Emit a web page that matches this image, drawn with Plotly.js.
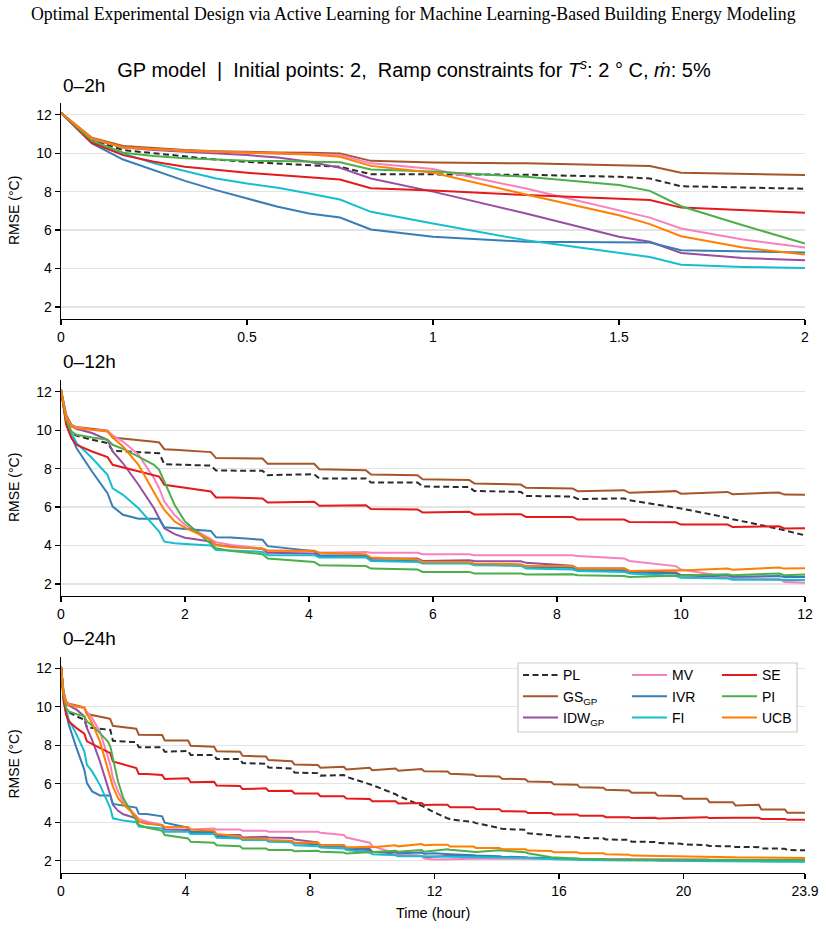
<!DOCTYPE html>
<html>
<head>
<meta charset="utf-8">
<script src="https://cdn.plot.ly/plotly-3.0.1.min.js"></script>
<style>
  html, body { margin: 0; padding: 0; background: #ffffff; }
  #chart { width: 826px; height: 930px; }
</style>
</head>
<body>
<div id="chart"></div>
<script>
// ---- 0–2 h run: time (hour) and RMSE (°C) for each acquisition strategy ----
const hoursShort = [0, 0.083, 0.167, 0.25, 0.333, 0.417, 0.5, 0.583, 0.667, 0.75, 0.833, 1.0, 1.25, 1.5, 1.583, 1.667, 1.833, 2.0];
const shortPL  = [12.1, 10.7, 10.16, 9.99, 9.81, 9.67, 9.55, 9.47, 9.38, 9.29, 8.91, 8.9, 8.88, 8.77, 8.68, 8.28, 8.2, 8.15];
const shortGS  = [12.1, 10.8, 10.37, 10.25, 10.16, 10.1, 10.06, 10.04, 10.02, 9.99, 9.6, 9.52, 9.47, 9.36, 9.33, 8.98, 8.91, 8.86];
const shortIDW = [12.1, 10.72, 10.3, 10.16, 10.07, 9.99, 9.9, 9.78, 9.55, 9.24, 8.68, 8.0, 6.86, 5.65, 5.39, 4.81, 4.55, 4.43];
const shortMV  = [12.1, 10.77, 10.3, 10.2, 10.13, 10.08, 10.04, 10.01, 9.97, 9.9, 9.47, 9.18, 8.16, 7.03, 6.65, 6.08, 5.51, 5.09];
const shortIVR = [12.1, 10.51, 9.67, 9.12, 8.56, 8.08, 7.63, 7.21, 6.86, 6.65, 6.03, 5.65, 5.39, 5.35, 5.35, 4.95, 4.9, 4.83];
const shortFI  = [12.1, 10.59, 9.99, 9.47, 9.07, 8.68, 8.42, 8.2, 7.9, 7.59, 6.95, 6.34, 5.47, 4.81, 4.6, 4.2, 4.08, 4.03];
const shortSE  = [12.1, 10.54, 9.9, 9.55, 9.29, 9.12, 8.98, 8.86, 8.74, 8.63, 8.18, 8.06, 7.82, 7.64, 7.56, 7.17, 7.03, 6.9];
const shortPI  = [12.1, 10.65, 10.02, 9.85, 9.73, 9.67, 9.6, 9.59, 9.57, 9.53, 9.15, 9.05, 8.77, 8.34, 8.04, 7.24, 6.25, 5.3];
const shortUCB = [12.1, 10.77, 10.3, 10.2, 10.13, 10.07, 10.02, 9.99, 9.93, 9.81, 9.34, 8.98, 7.85, 6.77, 6.31, 5.68, 5.09, 4.73];

// ---- long run (shown as 0–12 h and 0–24 h) ----
const hoursLong = [0, 0.083, 0.167, 0.25, 0.5, 0.75, 0.833, 1.0, 1.25, 1.5,
  1.583, 1.667, 1.833, 2.0, 2.25, 2.417, 2.5, 2.75, 3.25, 3.333,
  4.083, 4.167, 4.917, 5.0, 5.75, 5.833, 6.583, 6.667, 7.417, 7.5,
  8.25, 8.333, 9.083, 9.167, 9.917, 10.0, 10.75, 10.833, 11.583, 11.667,
  12.0, 12.417, 12.5, 13.25, 13.333, 14.083, 14.167, 14.917, 15.0, 15.75,
  15.833, 16.583, 16.667, 17.417, 17.5, 18.25, 18.333, 19.083, 19.167, 19.917,
  20.0, 20.75, 20.833, 21.583, 21.667, 22.417, 22.5, 23.25, 23.333, 23.9];
const longPL = [12.1, 10.66, 9.85, 9.72, 9.5, 9.33, 8.93, 8.9, 8.86, 8.82,
  8.8, 8.23, 8.2, 8.2, 8.17, 8.16, 7.9, 7.9, 7.89, 7.66,
  7.71, 7.49, 7.49, 7.28, 7.28, 7.07, 7.04, 6.84, 6.79, 6.58,
  6.55, 6.42, 6.45, 6.36, 6.0, 5.93, 5.45, 5.37, 4.86, 4.79,
  4.5, 4.2, 4.15, 4.0, 3.95, 3.7, 3.65, 3.6, 3.42, 3.32,
  3.27, 3.22, 3.18, 3.16, 3.1, 3.08, 2.98, 2.97, 2.92, 2.88,
  2.84, 2.8, 2.76, 2.74, 2.71, 2.7, 2.63, 2.62, 2.55, 2.54];
const longGS = [12.1, 10.8, 10.28, 10.16, 10.07, 9.97, 9.62, 9.57, 9.5, 9.4,
  9.36, 9.01, 8.98, 8.95, 8.9, 8.86, 8.55, 8.54, 8.53, 8.25,
  8.25, 7.97, 7.92, 7.69, 7.66, 7.45, 7.41, 7.23, 7.17, 7.0,
  6.97, 6.83, 6.88, 6.74, 6.83, 6.7, 6.79, 6.67, 6.76, 6.65,
  6.66, 6.64, 6.52, 6.47, 6.4, 6.38, 6.26, 6.23, 6.12, 6.09,
  5.97, 5.95, 5.81, 5.79, 5.69, 5.65, 5.53, 5.53, 5.39, 5.36,
  5.22, 5.22, 5.04, 5.04, 4.87, 4.9, 4.66, 4.66, 4.49, 4.49];
const longIDW = [12.1, 10.65, 10.2, 10.07, 9.85, 9.5, 8.89, 8.28, 7.16, 5.94,
  5.42, 4.9, 4.59, 4.41, 4.29, 4.2, 4.03, 3.95, 3.82, 3.62,
  3.59, 3.45, 3.5, 3.33, 3.33, 3.2, 3.24, 3.2, 3.18, 3.1,
  2.95, 2.8, 2.8, 2.68, 2.6, 2.46, 2.37, 2.3, 2.24, 2.18,
  2.22, 2.26, 2.25, 2.22, 2.21, 2.17, 2.16, 2.14, 2.13, 2.1,
  2.09, 2.08, 2.07, 2.06, 2.05, 2.04, 2.03, 2.03, 2.02, 2.02,
  2.02, 2.01, 2.01, 2.0, 2.0, 2.0, 2.0, 2.0, 2.0, 2.0];
const longMV = [12.1, 10.7, 10.23, 10.15, 10.02, 9.97, 9.73, 9.41, 8.72, 7.5,
  6.98, 6.29, 5.59, 5.07, 4.64, 4.34, 4.17, 4.03, 3.85, 3.73,
  3.73, 3.62, 3.67, 3.62, 3.62, 3.55, 3.55, 3.5, 3.5, 3.47,
  3.5, 3.45, 3.33, 3.2, 2.93, 2.75, 2.37, 2.33, 2.26, 2.11,
  2.06, 2.08, 2.09, 2.1, 2.1, 2.1, 2.1, 2.09, 2.09, 2.09,
  2.09, 2.09, 2.09, 2.09, 2.09, 2.08, 2.08, 2.08, 2.08, 2.07,
  2.07, 2.07, 2.06, 2.06, 2.05, 2.05, 2.04, 2.04, 2.03, 2.03];
const longIVR = [12.1, 10.45, 9.67, 9.07, 7.85, 6.72, 6.03, 5.6, 5.39, 5.39,
  5.39, 4.95, 4.9, 4.86, 4.8, 4.76, 4.43, 4.42, 4.3, 3.97,
  3.71, 3.5, 3.45, 3.24, 3.2, 3.1, 3.1, 3.03, 2.95, 2.9,
  2.85, 2.72, 2.72, 2.6, 2.55, 2.45, 2.45, 2.38, 2.42, 2.36,
  2.38, 2.36, 2.33, 2.28, 2.26, 2.23, 2.2, 2.18, 2.16, 2.13,
  2.1, 2.09, 2.08, 2.07, 2.06, 2.05, 2.04, 2.03, 2.02, 2.01,
  2.0, 2.0, 1.99, 1.99, 1.98, 1.98, 1.97, 1.97, 1.97, 1.97];
const longFI = [12.1, 10.49, 9.85, 9.33, 8.55, 7.68, 6.98, 6.64, 5.94, 4.99,
  4.73, 4.2, 4.12, 4.08, 4.03, 4.0, 3.77, 3.74, 3.67, 3.5,
  3.5, 3.38, 3.38, 3.19, 3.15, 3.07, 3.07, 2.98, 2.95, 2.8,
  2.75, 2.68, 2.63, 2.55, 2.42, 2.33, 2.28, 2.22, 2.24, 2.22,
  2.21, 2.2, 2.19, 2.18, 2.17, 2.16, 2.15, 2.14, 2.13, 2.08,
  2.07, 2.04, 2.03, 2.02, 2.02, 2.01, 2.0, 2.0, 1.99, 1.99,
  1.98, 1.97, 1.97, 1.96, 1.96, 1.95, 1.95, 1.95, 1.95, 1.94];
const longSE = [12.1, 10.28, 9.59, 9.24, 8.89, 8.6, 8.2, 8.06, 7.89, 7.65,
  7.59, 7.16, 7.08, 6.98, 6.88, 6.81, 6.5, 6.5, 6.45, 6.24,
  6.28, 6.07, 6.1, 5.9, 5.88, 5.72, 5.76, 5.62, 5.63, 5.49,
  5.49, 5.35, 5.35, 5.23, 5.21, 5.09, 5.09, 4.97, 5.0, 4.89,
  4.9, 4.9, 4.78, 4.78, 4.68, 4.67, 4.57, 4.56, 4.47, 4.47,
  4.4, 4.4, 4.33, 4.33, 4.26, 4.26, 4.21, 4.23, 4.19, 4.22,
  4.21, 4.26, 4.21, 4.26, 4.23, 4.23, 4.17, 4.17, 4.12, 4.12];
const longPI = [12.1, 10.54, 9.93, 9.76, 9.62, 9.5, 9.24, 9.03, 8.63, 8.2,
  7.94, 7.33, 6.11, 5.25, 4.55, 4.12, 3.86, 3.72, 3.55, 3.33,
  3.15, 2.98, 2.93, 2.8, 2.75, 2.63, 2.63, 2.55, 2.55, 2.49,
  2.51, 2.46, 2.42, 2.37, 2.42, 2.46, 2.51, 2.46, 2.55, 2.46,
  2.52, 2.59, 2.56, 2.45, 2.45, 2.54, 2.52, 2.43, 2.38, 2.17,
  2.16, 2.1, 2.09, 2.07, 2.06, 2.05, 2.05, 2.04, 2.04, 2.04,
  2.04, 2.04, 2.04, 2.03, 2.03, 2.03, 2.03, 2.03, 2.03, 2.03];
const longUCB = [12.1, 10.63, 10.2, 10.1, 10.02, 9.93, 9.62, 9.15, 8.2, 6.72,
  6.29, 5.85, 5.25, 4.93, 4.55, 4.29, 4.03, 3.91, 3.85, 3.73,
  3.73, 3.62, 3.55, 3.38, 3.27, 3.15, 3.15, 3.07, 3.03, 2.93,
  2.94, 2.8, 2.8, 2.68, 2.72, 2.7, 2.8, 2.74, 2.86, 2.8,
  2.82, 2.83, 2.73, 2.73, 2.66, 2.66, 2.59, 2.59, 2.52, 2.5,
  2.43, 2.43, 2.38, 2.38, 2.33, 2.31, 2.26, 2.25, 2.24, 2.24,
  2.23, 2.21, 2.19, 2.18, 2.17, 2.17, 2.16, 2.15, 2.14, 2.14];

// ---- axis ticks ----
const yTicks = [2, 4, 6, 8, 10, 12];
const xTicks2h = [0, 0.5, 1, 1.5, 2];
const xTickText2h = ['0', '0.5', '1', '1.5', '2'];
const xTicks12h = [0, 2, 4, 6, 8, 10, 12];
const xTicks24h = [0, 4, 8, 12, 16, 20, 23.9];
const xTickText24h = ['0', '4', '8', '12', '16', '20', '23.9'];
const panelLabels = ['0\u20132h', '0\u201312h', '0\u201324h'];

// ---- strategies: legend name, colour, dash, legend column ----
const strategies = [
  {name: 'PL',                 color: '#2b2b2b', dash: '6px,3.5px', col: 'legend',  short: shortPL,  long: longPL},
  {name: 'GS<sub>GP</sub>',    color: '#a65628', dash: 'solid',     col: 'legend',  short: shortGS,  long: longGS},
  {name: 'IDW<sub>GP</sub>',   color: '#984ea3', dash: 'solid',     col: 'legend',  short: shortIDW, long: longIDW},
  {name: 'MV',                 color: '#f781bf', dash: 'solid',     col: 'legend2', short: shortMV,  long: longMV},
  {name: 'IVR',                color: '#377eb8', dash: 'solid',     col: 'legend2', short: shortIVR, long: longIVR},
  {name: 'FI',                 color: '#17becf', dash: 'solid',     col: 'legend2', short: shortFI,  long: longFI},
  {name: 'SE',                 color: '#e41a1c', dash: 'solid',     col: 'legend3', short: shortSE,  long: longSE},
  {name: 'PI',                 color: '#4daf4a', dash: 'solid',     col: 'legend3', short: shortPI,  long: longPI},
  {name: 'UCB',                color: '#ff7f00', dash: 'solid',     col: 'legend3', short: shortUCB, long: longUCB}
];

const FONT = 'Liberation Sans, Arial, sans-serif';
const traces = [];
strategies.forEach(s => {
  const line = {color: s.color, width: 2, dash: s.dash};
  traces.push({x: hoursShort, y: s.short, xaxis: 'x', yaxis: 'y', mode: 'lines', line: line,
               name: s.name, showlegend: false, hoverinfo: 'skip'});
  traces.push({x: hoursLong, y: s.long, xaxis: 'x2', yaxis: 'y2', mode: 'lines', line: line,
               name: s.name, showlegend: false, hoverinfo: 'skip'});
  traces.push({x: hoursLong, y: s.long, xaxis: 'x3', yaxis: 'y3', mode: 'lines', line: line,
               name: s.name, showlegend: true, legend: s.col, hoverinfo: 'skip'});
});

// ---- geometry (pixels of the 826 x 930 page) ----
const W = 826, H = 930, L = 61, R = 21;
const plotW = W - L - R;
const panels = [[103, 319], [380, 596], [656.6, 872.6]];
const dom = p => [1 - p[1] / H, 1 - p[0] / H];
const px2x = px => (px - L) / plotW;
const py2y = py => 1 - py / H;

const axisBase = {
  showline: true, linecolor: '#000', linewidth: 1.3,
  ticks: 'outside', ticklen: 5, tickwidth: 1.3, tickcolor: '#000',
  tickfont: {family: FONT, size: 14, color: '#000'},
  zeroline: false, fixedrange: true
};
const xaxisOf = (range, vals, text, anchor) => Object.assign({}, axisBase, {
  domain: [0, 1], range: range, tickmode: 'array', tickvals: vals, ticktext: text,
  showgrid: false, anchor: anchor
});
const yaxisOf = (d, anchor) => Object.assign({}, axisBase, {
  domain: d, range: [1.376, 12.61], tickmode: 'array', tickvals: yTicks,
  showgrid: true, gridcolor: '#e4e4e4', gridwidth: 1.2, anchor: anchor
});

const annotations = [
  {text: 'Optimal Experimental Design via Active Learning for Machine Learning-Based Building Energy Modeling',
   xref: 'paper', yref: 'paper', x: px2x(413), y: py2y(14), xanchor: 'center', yanchor: 'middle',
   showarrow: false, font: {family: 'Liberation Serif, Times New Roman, serif', size: 17.8, color: '#000'}},
  {text: 'Time (hour)', xref: 'paper', yref: 'paper', x: px2x(433), y: py2y(913),
   xanchor: 'center', yanchor: 'middle', showarrow: false, font: {family: FONT, size: 14.5, color: '#000'}}
];
const labelY = [85, 362, 638];
panels.forEach((p, i) => {
  annotations.push({text: panelLabels[i], xref: 'paper', yref: 'paper', x: 0, y: py2y(labelY[i]),
    xanchor: 'left', yanchor: 'middle', showarrow: false, font: {family: FONT, size: 19, color: '#000'}});
  annotations.push({text: 'RMSE (\u00b0C)', xref: 'paper', yref: 'paper', x: px2x(14), y: py2y((p[0] + p[1]) / 2),
    xanchor: 'center', yanchor: 'middle', textangle: -90, showarrow: false,
    font: {family: FONT, size: 14, color: '#000'}});
});

const legendBase = {
  xanchor: 'left', yanchor: 'top', y: py2y(659.4), bgcolor: 'rgba(0,0,0,0)', borderwidth: 0,
  font: {family: FONT, size: 14, color: '#000'}, itemwidth: 35, tracegroupgap: 0, itemclick: false
};

const layout = {
  width: W, height: H,
  margin: {l: L, r: R, t: 0, b: 0, pad: 0},
  paper_bgcolor: '#fff', plot_bgcolor: '#fff',
  title: {
    text: 'GP model \u00a0|\u00a0 Initial points: 2, \u00a0Ramp constraints for <i>T</i><sup><i>s</i></sup>: 2 \u00b0 C, <i>\u1e41</i>: 5%',
    xref: 'container', yref: 'container', x: 414 / W, y: 1 - 70 / H, xanchor: 'center', yanchor: 'middle',
    font: {family: FONT, size: 20, color: '#000'}
  },
  xaxis: xaxisOf([0, 2], xTicks2h, xTickText2h, 'y'),
  yaxis: yaxisOf(dom(panels[0]), 'x'),
  xaxis2: xaxisOf([0, 12], xTicks12h, xTicks12h.map(String), 'y2'),
  yaxis2: yaxisOf(dom(panels[1]), 'x2'),
  xaxis3: xaxisOf([0, 23.9], xTicks24h, xTickText24h, 'y3'),
  yaxis3: yaxisOf(dom(panels[2]), 'x3'),
  legend: Object.assign({}, legendBase, {x: px2x(518)}),
  legend2: Object.assign({}, legendBase, {x: px2x(627)}),
  legend3: Object.assign({}, legendBase, {x: px2x(717)}),
  shapes: [{
    type: 'rect', xref: 'paper', yref: 'paper', layer: 'above',
    x0: px2x(518), x1: px2x(797), y0: py2y(732), y1: py2y(663),
    line: {color: '#cccccc', width: 1.2}, fillcolor: 'rgba(255,255,255,0.9)'
  }],
  annotations: annotations,
  showlegend: true
};

Plotly.newPlot('chart', traces, layout, {displayModeBar: false, staticPlot: true});
</script>
</body>
</html>
